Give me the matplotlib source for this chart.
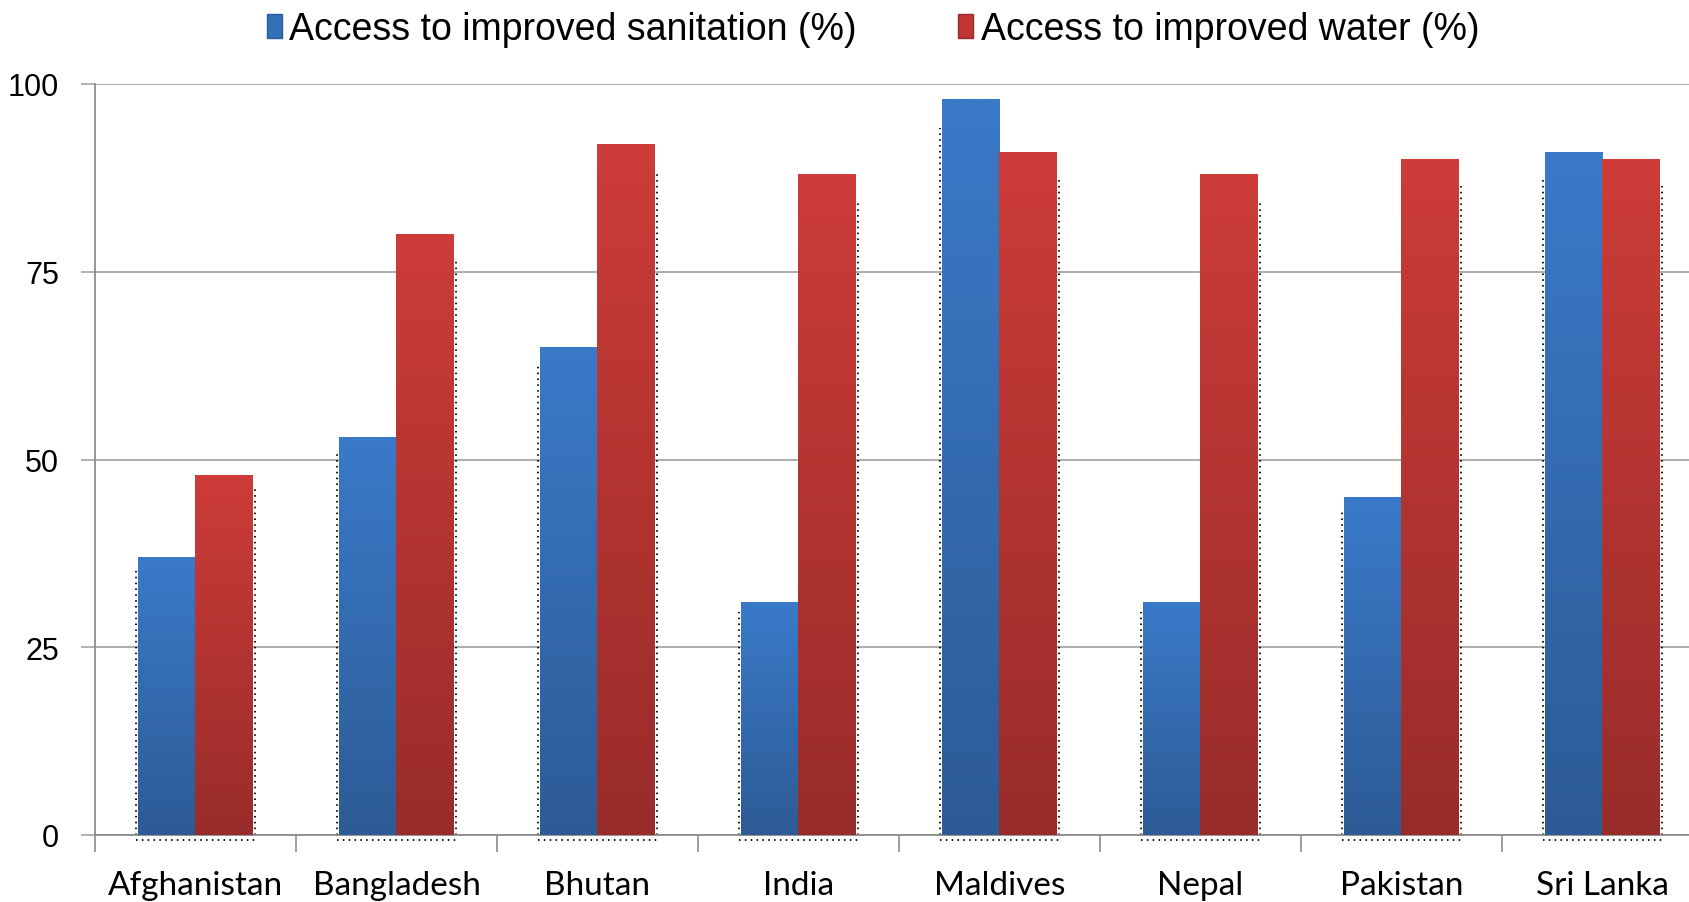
import numpy as np
import matplotlib.pyplot as plt
from matplotlib.colors import LinearSegmentedColormap
from matplotlib.patches import Patch

countries = ["Afghanistan", "Bangladesh", "Bhutan", "India",
             "Maldives", "Nepal", "Pakistan", "Sri Lanka"]
sanitation = [37, 53, 65, 31, 98, 31, 45, 91]
water = [48, 80, 92, 88, 91, 88, 90, 90]
yticks = [0, 25, 50, 75, 100]

BAR_W = 0.286
blue_cmap = LinearSegmentedColormap.from_list("blue", ["#2d5b95", "#3a7ac9"])
red_cmap = LinearSegmentedColormap.from_list("red", ["#982c2a", "#cd3c38"])
grad = np.linspace(0, 1, 256).reshape(-1, 1)


def gradient_bars(ax, x, heights, cmap):
    bars = ax.bar(x, heights, width=BAR_W, align="edge", color="none",
                  edgecolor="none", zorder=3)
    for bar in bars:
        x0, w, h = bar.get_x(), bar.get_width(), bar.get_height()
        im = ax.imshow(grad, cmap=cmap, origin="lower", aspect="auto",
                       extent=(x0, x0 + w, 0, h), zorder=3)
        im.set_clip_path(bar)
    return bars


fig = plt.figure(figsize=(16.9, 9.03), dpi=100)
ax = fig.add_axes([95 / 1690, 1 - 836 / 903, 1608 / 1690, 751 / 903])

x = np.arange(len(countries))
gradient_bars(ax, x - BAR_W, sanitation, blue_cmap)
gradient_bars(ax, x, water, red_cmap)

# dotted shadow outline around each pair of bars
for i, (s, w) in enumerate(zip(sanitation, water)):
    left, right = x[i] - BAR_W - 0.012, x[i] + BAR_W + 0.01
    dot = dict(color="#111111", lw=1.4, ls=(0, (0.8, 2.2)), zorder=2)
    ax.plot([left, left], [0, s * 0.96], **dot)
    ax.plot([right, right], [0, w * 0.96], **dot)
    ax.plot([left, right], [-0.6, -0.6], clip_on=False, **dot)

ax.set_xlim(-0.5, len(countries) - 0.5)
ax.set_ylim(0, 100)
ax.set_yticks(yticks)
ax.set_yticklabels([str(t) for t in yticks], family="Liberation Sans",
                   fontsize=22)
ax.yaxis.grid(True, color="#a6a6a6", lw=1.3, zorder=0)
ax.set_axisbelow(True)

ax.set_xticks(np.arange(-0.5, len(countries), 1.0))
ax.set_xticklabels([])
ax.tick_params(axis="x", length=12, width=1.2, color="#8c8c8c")
ax.tick_params(axis="y", length=10, width=1.2, color="#a6a6a6", pad=16)
for i, name in enumerate(countries):
    ax.text(i, -6.7, name, ha="center", va="center", fontsize=24,
            family="Lato", transform=ax.transData)

for side in ["top", "right"]:
    ax.spines[side].set_visible(False)
for side in ["left", "bottom"]:
    ax.spines[side].set_color("#8c8c8c")
    ax.spines[side].set_linewidth(1.3)

handles = [Patch(facecolor="#3570b8", edgecolor="#2d5b95"),
           Patch(facecolor="#bf3633", edgecolor="#982c2a")]
fig.legend(handles, ["Access to improved sanitation (%)",
                     "Access to improved water (%)"],
           loc="center", bbox_to_anchor=(873 / 1690, 1 - 30 / 903), ncol=2,
           frameon=False, handlelength=0.4, handleheight=0.6,
           handletextpad=0.2, columnspacing=2.7,
           prop={"family": "Liberation Sans", "size": 27})

fig.savefig("out.png", dpi=100)
